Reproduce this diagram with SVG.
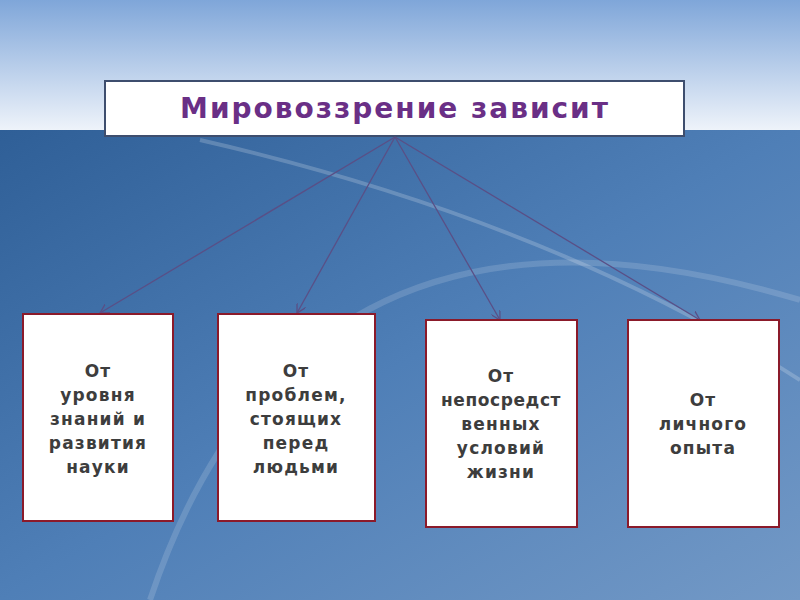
<svg xmlns="http://www.w3.org/2000/svg" width="800" height="600" viewBox="0 0 800 600">
<defs>
<linearGradient id="sky" x1="0" y1="0" x2="0" y2="1">
<stop offset="0" stop-color="#7fa6d9"/><stop offset="1" stop-color="#eef3fa"/>
</linearGradient>
<linearGradient id="bg" x1="0" y1="0" x2="1" y2="1">
<stop offset="0" stop-color="#2f5f97"/><stop offset="0.5" stop-color="#4f7fb7"/><stop offset="1" stop-color="#7399c6"/>
</linearGradient>
<marker id="ah" markerWidth="10" markerHeight="10" refX="9" refY="5" orient="auto" markerUnits="userSpaceOnUse">
<path d="M0,0 L9,5 L0,10" fill="none" stroke="#5a4f86" stroke-width="1.3"/>
</marker>
<style>
.box{fill:#fff;stroke:#8b1a2a;stroke-width:2}
.t{font-family:"DejaVu Sans",sans-serif;font-weight:bold;font-size:17px;letter-spacing:1.2px;fill:#3d3d3d;text-anchor:middle}
.c{stroke:#5a4f86;stroke-width:1.3;fill:none;marker-end:url(#ah)}
</style>
</defs>
<rect width="800" height="130" fill="url(#sky)"/>
<rect y="130" width="800" height="470" fill="url(#bg)"/>
<path d="M150,600 Q300,150 800,300" fill="none" stroke="#ffffff" stroke-opacity="0.15" stroke-width="6"/>
<path d="M200,140 Q550,220 800,380" fill="none" stroke="#ffffff" stroke-opacity="0.2" stroke-width="4"/>
<g id="title"><rect x="105" y="81" width="579" height="55" fill="#fff" stroke="#3e4e6e" stroke-width="2"/>
<text x="395" y="118" style="font-family:'DejaVu Sans',sans-serif;font-weight:bold;font-size:28px;letter-spacing:2px;fill:#6a2f86;text-anchor:middle">Мировоззрение зависит</text></g>
<g id="connectors">
<line class="c" x1="395" y1="137" x2="100" y2="313"/>
<line class="c" x1="395" y1="137" x2="297" y2="313"/>
<line class="c" x1="395" y1="137" x2="500" y2="320"/>
<line class="c" x1="395" y1="137" x2="700" y2="320"/>
</g>
<g id="n1"><rect class="box" x="23" y="314" width="150" height="207"/>
<text class="t" x="98" y="377">От</text><text class="t" x="98" y="401">уровня</text><text class="t" x="98" y="425">знаний и</text><text class="t" x="98" y="449">развития</text><text class="t" x="98" y="473">науки</text></g>
<g id="n2"><rect class="box" x="218" y="314" width="157" height="207"/>
<text class="t" x="296" y="377">От</text><text class="t" x="296" y="401">проблем,</text><text class="t" x="296" y="425">стоящих</text><text class="t" x="296" y="449">перед</text><text class="t" x="296" y="473">людьми</text></g>
<g id="n3"><rect class="box" x="426" y="320" width="151" height="207"/>
<text class="t" x="501" y="382">От</text><text class="t" x="501" y="406" style="letter-spacing:0.6px">непосредст</text><text class="t" x="501" y="430">венных</text><text class="t" x="501" y="454">условий</text><text class="t" x="501" y="478">жизни</text></g>
<g id="n4"><rect class="box" x="628" y="320" width="151" height="207"/>
<text class="t" x="703" y="406">От</text><text class="t" x="703" y="430">личного</text><text class="t" x="703" y="454">опыта</text></g>
</svg>
